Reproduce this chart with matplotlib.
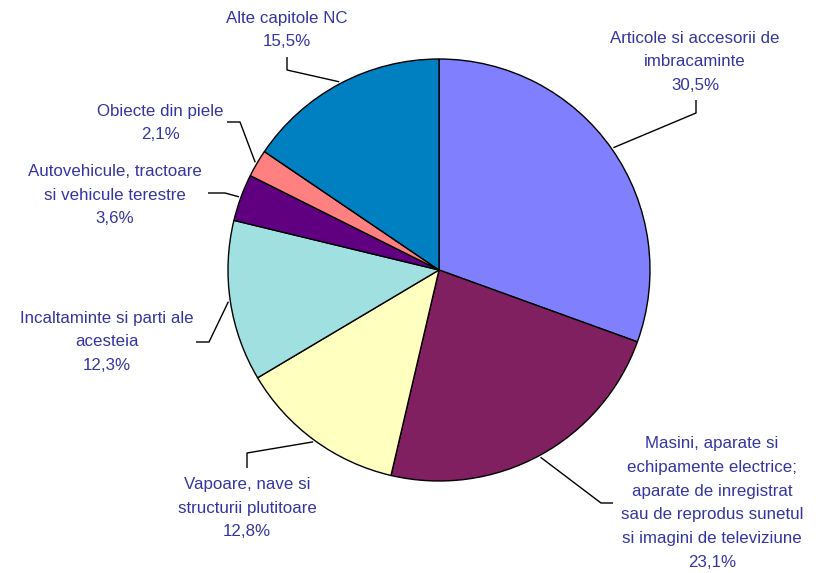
import numpy as np
import matplotlib
matplotlib.use("Agg")
import matplotlib.pyplot as plt

categories = [
    "Articole si accesorii de\nimbracaminte",
    "Masini, aparate si\nechipamente electrice;\naparate de inregistrat\nsau de reprodus sunetul\nsi imagini de televiziune",
    "Vapoare, nave si\nstructurii plutitoare",
    "Incaltaminte si parti ale\nacesteia",
    "Autovehicule, tractoare\nsi vehicule terestre",
    "Obiecte din piele",
    "Alte capitole NC",
]
values = [30.5, 23.1, 12.8, 12.3, 3.6, 2.1, 15.5]
colors = ["#8080FF", "#802060", "#FFFFC0", "#A0E0E0", "#600080", "#FF8080", "#0080C0"]

W, H = 816, 573
fig = plt.figure(figsize=(W / 100, H / 100), dpi=100)
ax = fig.add_axes([0, 0, 1, 1])
ax.set_xlim(0, W)
ax.set_ylim(0, H)
ax.set_aspect("equal")
ax.axis("off")

def P(x, y):
    return x, H - y

cx, cy = P(439, 270)
R = 211
wedges, _ = ax.pie(values, colors=colors, startangle=90, counterclock=False,
                   center=(cx, cy), radius=R,
                   wedgeprops=dict(edgecolor="black", linewidth=1.0))
ax.set_xlim(0, W)
ax.set_ylim(0, H)

# layout: label block centers and leader elbow/end points (pixel coords)
label_pos = [(695, 62), (712, 503), (247, 508), (107, 342), (115, 195), (160, 123), (287, 30)]
leaders = [
    [(696, 113), (696, 100)],
    [(601, 503), (613, 503)],
    [(247, 453), (247, 468)],
    [(209, 342), (196, 342)],
    [(225, 193), (208, 193)],
    [(240, 122), (227, 122)],
    [(287, 70), (287, 57)],
]

tc = "#3535A0"
for w, cat, v, lp, ld in zip(wedges, categories, values, label_pos, leaders):
    th = np.deg2rad((w.theta1 + w.theta2) / 2)
    ax0 = cx + (R + 2) * np.cos(th)
    ay0 = cy + (R + 2) * np.sin(th)
    pts = [(ax0, ay0)] + [P(*p) for p in ld]
    xs, ys = zip(*pts)
    ax.plot(xs, ys, color="black", lw=1.0, solid_capstyle="butt")
    txt = cat + "\n" + f"{v:.1f}".replace(".", ",") + "%"
    ax.text(*P(*lp), txt, ha="center", va="center", multialignment="center",
            color=tc, fontsize=12.2, family="Liberation Sans", linespacing=1.72)

fig.savefig("out.png", dpi=100)
